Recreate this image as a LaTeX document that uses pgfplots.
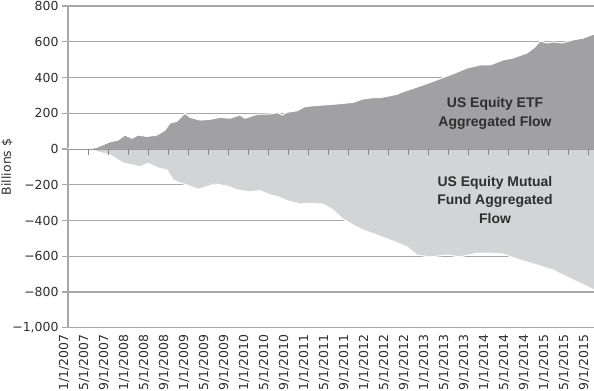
\documentclass[border=0pt]{standalone}
\usepackage{fontspec}
\setmainfont{DejaVu Sans}
\newfontfamily\labfont{Liberation Sans}
\usepackage{pgfplots}
\usepackage{pgfplotstable}
\pgfplotsset{compat=1.18}
\definecolor{etf}{HTML}{A1A1A4}
\definecolor{mf}{HTML}{D3D4D5}
\definecolor{gridc}{HTML}{A8A8A8}
\definecolor{txt}{HTML}{2E2E2E}

\pgfplotstableread{
m v
0 3
3.8 4
4.2 0
5.8 10
8.4 40
10 50
11.4 78
12.8 60
14 78
15.8 70
17.8 78
19.4 105
20.4 145
21.8 155
23 190
23.4 200
24.4 177
26.4 162
28.4 166
30.4 177
32.4 172
34.4 190
35.4 172
37.8 194
40.4 196
42 203
42.8 190
43.8 205
45.8 214
47.4 237
49 242
51 246
53 250
55 255
57 261
59 280
61 287
62.4 287
65.8 306
67 320
71 358
74.8 397
77.4 425
79.8 453
82.4 470
84.4 470
87 498
89 509
91.8 537
93.4 571
94.4 604
95.8 593
97 599
98.8 593
101 610
103 620
105.2 643
}\etf

\pgfplotstableread{
m v
0 3
3.8 3
4.2 0
5.8 -15
8.4 -33
11 -78
13 -90
14.4 -100
16 -80
18 -106
19.8 -117
21 -173
22.4 -190
23.8 -201
26 -226
29.4 -196
31.8 -207
33.8 -229
36.4 -239
38.4 -233
40.4 -257
42 -267
43.8 -289
46.4 -308
47.8 -304
51 -308
53 -341
55 -392
57 -425
59 -453
61.8 -481
64.4 -509
67.8 -548
69.8 -593
72.4 -604
75.8 -593
78.4 -604
81.8 -582
83.8 -582
87 -587
90.4 -621
93.8 -649
97 -677
99.8 -716
102.4 -750
105.2 -788
}\mf

\begin{document}
\begin{tikzpicture}
\begin{axis}[
  scale only axis,
  width=526bp, height=321.75bp,
  xmin=0, xmax=105.2,
  ymin=-1000, ymax=800,
  axis lines=left,
  axis line style={draw=gridc, line width=1.2bp, -},
  ytick={-1000,-800,-600,-400,-200,0,200,400,600,800},
  yticklabels={{−1{,}000},{−800},{−600},{−400},{−200},{0},{200},{400},{600},{800}},
  xtick={0,4,...,104},
  xticklabels={1/1/2007,5/1/2007,9/1/2007,1/1/2008,5/1/2008,9/1/2008,1/1/2009,5/1/2009,9/1/2009,1/1/2010,5/1/2010,9/1/2010,1/1/2011,5/1/2011,9/1/2011,1/1/2012,5/1/2012,9/1/2012,1/1/2013,5/1/2013,9/1/2013,1/1/2014,5/1/2014,9/1/2014,1/1/2015,5/1/2015,9/1/2015},
  tick align=outside,
  major tick length=6bp,
  ytick style={draw=gridc, line width=1.2bp},
  xtick style={draw=none},
  xmajorgrids=false,
  xticklabel style={rotate=90, anchor=east, font=\fontsize{12.5}{15}\selectfont, text=txt, inner sep=1bp, yshift=4bp},
  yticklabel style={font=\fontsize{12.5}{15}\selectfont, text=txt},
  ymajorgrids=true,
  major grid style={draw=gridc, line width=1.2bp},
  ylabel={Billions \$},
  ylabel style={at={([xshift=-61bp]axis description cs:0,0.5)}, anchor=center, rotate=0, font=\fontsize{12.5}{15}\selectfont, text=txt},
  clip=false,
]
\addplot[fill=etf, draw=none] table[x=m,y=v] {\etf} \closedcycle;
\addplot[fill=mf, draw=none] table[x=m,y=v] {\mf} \closedcycle;
\addplot[white, line width=1bp] table[x=m,y=v] {\etf};
\addplot[white, line width=1bp] table[x=m,y=v] {\mf};
\draw[gridc!90!black, line width=0.8bp] (axis cs:0,0) -- (axis cs:105.2,0);
\pgfplotsinvokeforeach{4,8,12,16,20,24,28,32,36,40,44,48,52,56,60,64,68,72,76,80,84,88,92,96,100,104}{
  \draw[gridc!80!black, line width=0.9bp] (axis cs:#1,0) -- (axis cs:#1,-32);
}
\node[font=\labfont\bfseries\fontsize{14}{19}\selectfont, text=txt, align=center] at (axis cs:85.4,198) {US Equity ETF\\Aggregated Flow};
\node[font=\labfont\bfseries\fontsize{14}{18.5}\selectfont, text=txt, align=center] at (axis cs:85.4,-285) {US Equity Mutual\\Fund Aggregated\\Flow};
\end{axis}
\pgfresetboundingbox
\path ([shift={(-68bp,-63.25bp)}]current axis.south west) rectangle ([shift={(0bp,6bp)}]current axis.north east);
\end{tikzpicture}
\end{document}
